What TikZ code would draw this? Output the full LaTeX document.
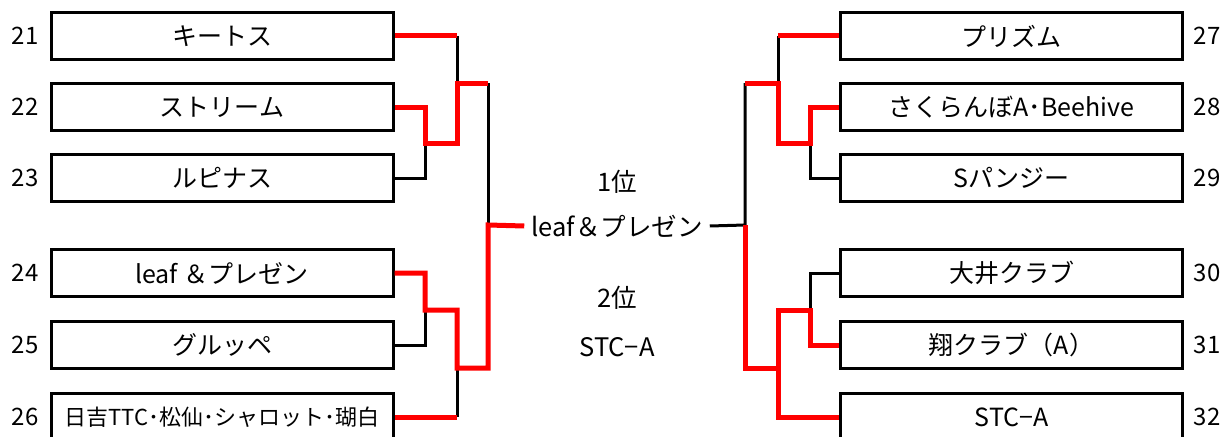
\documentclass[tikz,border=0pt]{standalone}
\usepackage{fontspec}
\setmainfont{Noto Sans CJK JP}
\begin{document}
\begin{tikzpicture}[x=1pt,y=-1pt,
  team/.style={draw=black,line width=3pt,minimum width=342pt,minimum height=47pt,inner sep=0pt,font=\fontsize{25}{30}\selectfont},
  num/.style={font=\fontsize{24}{28}\selectfont,inner sep=0pt},
  mid/.style={font=\fontsize{25.5}{30}\selectfont,inner sep=0pt},
  blk/.style={draw=black,line width=3pt},
  win/.style={draw=red,line width=5pt,line join=miter}]
\useasboundingbox (0,0) rectangle (1230,436);
\clip (0,0) rectangle (1230,436);
% left teams
\node[team] (b21) at (222,36) {キートス};
\node[team] (b22) at (222,107) {ストリーム};
\node[team] (b23) at (222,178) {ルピナス};
\node[team] (b24) at (222,273) {leaf ＆プレゼン};
\node[team] (b25) at (222,345) {グルッペ};
\node[team,font=\fontsize{22}{26}\selectfont] (b26) at (222,417) {日吉TTC･松仙･シャロット･瑚白};
% right teams
\node[team] (b27) at (1011.5,36) {プリズム};
\node[team] (b28) at (1011.5,107) {さくらんぼA･Beehive};
\node[team] (b29) at (1011.5,178) {Sパンジー};
\node[team] (b30) at (1011.5,273) {大井クラブ};
\node[team] (b31) at (1011.5,345) {翔クラブ（A）};
\node[team] (b32) at (1011.5,417) {STC−A};
% numbers
\node[num] (n21) at (25,36) {21};
\node[num] (n22) at (25,107) {22};
\node[num] (n23) at (25,178) {23};
\node[num] (n24) at (25,273) {24};
\node[num] (n25) at (25,345) {25};
\node[num] (n26) at (25,417) {26};
\node[num] (n27) at (1207,36) {27};
\node[num] (n28) at (1207,107) {28};
\node[num] (n29) at (1207,178) {29};
\node[num] (n30) at (1207,273) {30};
\node[num] (n31) at (1207,345) {31};
\node[num] (n32) at (1207,417) {32};
% centre labels
\node[mid] (p1) at (617,182) {1位};
\node[mid,inner xsep=7pt] (fin) at (617,226) {leaf＆プレゼン};
\node[mid] (p2) at (617,298) {2位};
\node[mid] (p2n) at (617,347) {STC−A};
% junction coordinates
\coordinate (la1) at (425,143);
\coordinate (la2) at (457,83);
\coordinate (lb1) at (425,310);
\coordinate (lb2) at (457,368);
\coordinate (lf) at (488,225);
\coordinate (ra1) at (810,143);
\coordinate (ra2) at (778,83);
\coordinate (rb1) at (810,310);
\coordinate (rb2) at (778,368);
\coordinate (rf) at (745,225);
% black lines
\draw[blk] (457,36) -- (la2);
\draw[blk] (b23.east) -- (425,178) -- (la1);
\draw[blk] (488,83) -- (lf);
\draw[blk] (b25.east) -- (425,345) -- (lb1);
\draw[blk] (457,417) -- (lb2);
\draw[blk] (778,36) -- (ra2);
\draw[blk] (b29.west) -- (810,178) -- (ra1);
\draw[blk] (745,83) -- (rf) -- (fin.east);
\draw[blk] (b30.west) -- (810,273) -- (rb1);
% red lines
\draw[win] (b21.east) -- (457,36);
\draw[win] (b22.east) -- (425,107) -- (la1) -- (457,143) -- (la2) -- (488,83);
\draw[win] (b24.east) -- (425,273) -- (lb1) -- (457,310) -- (lb2) -- (488,368) -- (lf) -- (fin.west);
\draw[win] (b26.east) -- (457,417);
\draw[win] (b27.west) -- (778,36);
\draw[win] (b28.west) -- (810,107) -- (ra1) -- (778,143) -- (ra2) -- (745,83);
\draw[win] (b31.west) -- (810,345) -- (rb1) -- (778,310) -- (rb2) -- (745,368) -- (rf);
\draw[win] (b32.west) -- (778,417) -- (rb2);
\end{tikzpicture}
\end{document}
